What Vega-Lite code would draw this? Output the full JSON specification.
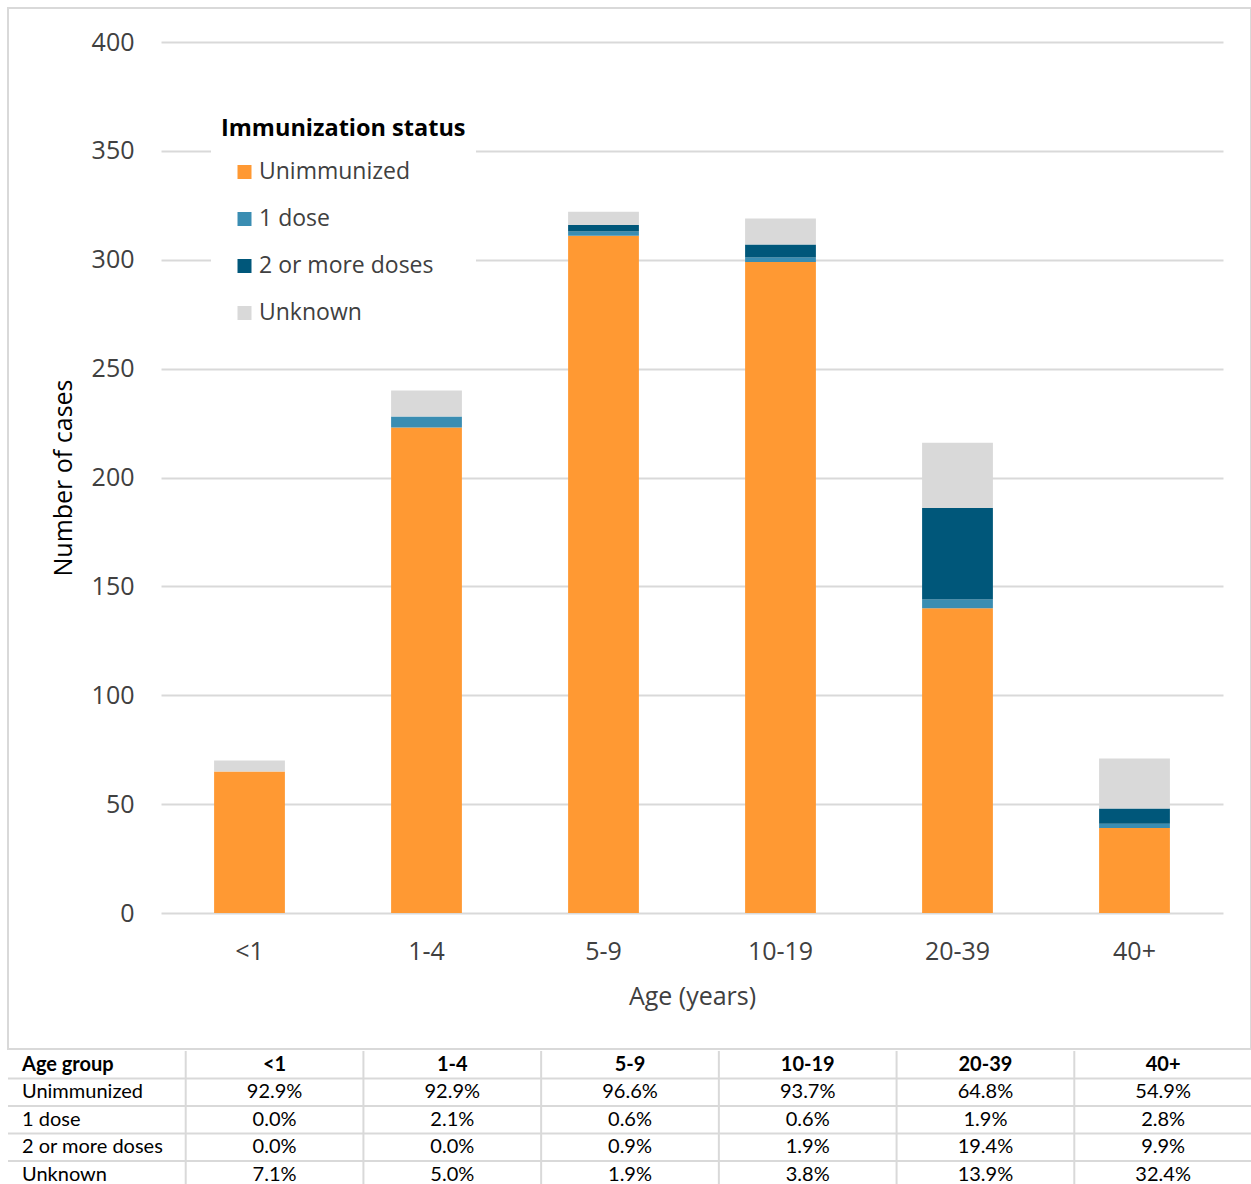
{
  "$schema": "https://vega.github.io/schema/vega-lite/v6.json",
  "padding": {"left": 7, "top": 7, "right": 0, "bottom": 0},
  "background": "white",
  "spacing": 0,
  "config": {
    "font": "Open Sans",
    "view": {"stroke": null}
  },
  "datasets": {
    "cases": [
      {"age": "<1", "status": "Unimmunized", "count": 65, "pct": 0.929},
      {"age": "<1", "status": "1 dose", "count": 0, "pct": 0.0},
      {"age": "<1", "status": "2 or more doses", "count": 0, "pct": 0.0},
      {"age": "<1", "status": "Unknown", "count": 5, "pct": 0.071},
      {"age": "1-4", "status": "Unimmunized", "count": 223, "pct": 0.929},
      {"age": "1-4", "status": "1 dose", "count": 5, "pct": 0.021},
      {"age": "1-4", "status": "2 or more doses", "count": 0, "pct": 0.0},
      {"age": "1-4", "status": "Unknown", "count": 12, "pct": 0.05},
      {"age": "5-9", "status": "Unimmunized", "count": 311, "pct": 0.966},
      {"age": "5-9", "status": "1 dose", "count": 2, "pct": 0.006},
      {"age": "5-9", "status": "2 or more doses", "count": 3, "pct": 0.009},
      {"age": "5-9", "status": "Unknown", "count": 6, "pct": 0.019},
      {"age": "10-19", "status": "Unimmunized", "count": 299, "pct": 0.937},
      {"age": "10-19", "status": "1 dose", "count": 2, "pct": 0.006},
      {"age": "10-19", "status": "2 or more doses", "count": 6, "pct": 0.019},
      {"age": "10-19", "status": "Unknown", "count": 12, "pct": 0.038},
      {"age": "20-39", "status": "Unimmunized", "count": 140, "pct": 0.648},
      {"age": "20-39", "status": "1 dose", "count": 4, "pct": 0.019},
      {"age": "20-39", "status": "2 or more doses", "count": 42, "pct": 0.194},
      {"age": "20-39", "status": "Unknown", "count": 30, "pct": 0.139},
      {"age": "40+", "status": "Unimmunized", "count": 39, "pct": 0.549},
      {"age": "40+", "status": "1 dose", "count": 2, "pct": 0.028},
      {"age": "40+", "status": "2 or more doses", "count": 7, "pct": 0.099},
      {"age": "40+", "status": "Unknown", "count": 23, "pct": 0.324}
    ]
  },
  "vconcat": [
    {
      "width": 1243,
      "height": 1041,
      "view": {"stroke": "#d9d9d9", "strokeWidth": 2},
      "data": {"name": "cases"},
      "transform": [
        {"calculate": "indexof(['Unimmunized','1 dose','2 or more doses','Unknown'], datum.status)", "as": "stackOrder"}
      ],
      "mark": {"type": "bar"},
      "encoding": {
        "x": {
          "field": "age",
          "type": "nominal",
          "sort": ["<1", "1-4", "5-9", "10-19", "20-39", "40+"],
          "scale": {"range": [153, 1215], "paddingInner": 0.6, "paddingOuter": 0.3},
          "axis": {
            "title": "Age (years)",
            "offset": -136,
            "domain": false,
            "ticks": false,
            "grid": false,
            "labelAngle": 0,
            "labelPadding": 26,
            "labelFontSize": 25,
            "labelColor": "#404040",
            "titleFontSize": 25,
            "titleFontWeight": "normal",
            "titleColor": "#404040",
            "titleY": 83,
            "titleBaseline": "middle"
          }
        },
        "y": {
          "field": "count",
          "type": "quantitative",
          "stack": "zero",
          "scale": {"domain": [0, 400], "range": [905, 34], "nice": false},
          "axis": {
            "title": "Number of cases",
            "values": [0, 50, 100, 150, 200, 250, 300, 350, 400],
            "offset": -153,
            "domain": false,
            "ticks": false,
            "grid": true,
            "gridColor": "#d9d9d9",
            "gridWidth": 2,
            "labelPadding": 27,
            "labelFontSize": 25,
            "labelColor": "#404040",
            "titleFontSize": 25,
            "titleFontWeight": "normal",
            "titleColor": "#000000",
            "titleX": -98,
            "titleBaseline": "middle"
          }
        },
        "color": {
          "field": "status",
          "type": "nominal",
          "scale": {
            "domain": ["Unimmunized", "1 dose", "2 or more doses", "Unknown"],
            "range": ["#FF9933", "#3A8DB2", "#00577A", "#D9D9D9"]
          },
          "legend": {
            "title": "Immunization status",
            "orient": "none",
            "legendX": 203,
            "legendY": 99,
            "padding": 10,
            "fillColor": "white",
            "titleFontSize": 23.5,
            "titleFontWeight": "bold",
            "titleColor": "#000000",
            "titlePadding": 20,
            "titleLimit": 500,
            "labelLimit": 500,
            "labelFontSize": 23,
            "labelColor": "#404040",
            "symbolType": "square",
            "symbolSize": 196,
            "symbolStrokeWidth": 0,
            "symbolOffset": 12,
            "labelOffset": 3,
            "rowPadding": 23
          }
        },
        "order": {"field": "stackOrder", "type": "quantitative"}
      }
    },
    {
      "width": 1244,
      "height": 137.5,
      "data": {"name": "cases"},
      "layer": [
        {
          "transform": [{"filter": "datum.status === 'Unimmunized'"}],
          "mark": {"type": "rule", "color": "#d9d9d9", "strokeWidth": 2},
          "encoding": {
            "x": {"field": "age", "type": "nominal", "bandPosition": 0}
          }
        },
        {
          "transform": [{"filter": "datum.age === '<1'"}],
          "mark": {"type": "rule", "color": "#d9d9d9", "strokeWidth": 2},
          "encoding": {
            "y": {"field": "status", "type": "nominal", "bandPosition": 0}
          }
        },
        {
          "transform": [{"filter": "datum.status === 'Unimmunized'"}],
          "mark": {"type": "text", "font": "Lato", "fontSize": 20, "fontWeight": "bold", "color": "#000000", "baseline": "middle"},
          "encoding": {
            "x": {"field": "age", "type": "nominal"},
            "y": {"datum": "Age group", "type": "nominal"},
            "text": {"field": "age", "type": "nominal"}
          }
        },
        {
          "transform": [{"filter": "datum.status === 'Unimmunized' && datum.age === '<1'"}],
          "mark": {"type": "text", "text": "Age group", "font": "Lato", "fontSize": 20, "fontWeight": "bold", "color": "#000000", "align": "left", "dx": 14, "baseline": "middle"},
          "encoding": {
            "x": {"datum": "Age group", "type": "nominal", "bandPosition": 0},
            "y": {"datum": "Age group", "type": "nominal"}
          }
        },
        {
          "transform": [{"filter": "datum.age === '<1'"}],
          "mark": {"type": "text", "font": "Lato", "fontSize": 20, "color": "#000000", "align": "left", "dx": 14, "baseline": "middle"},
          "encoding": {
            "x": {"datum": "Age group", "type": "nominal", "bandPosition": 0},
            "y": {"field": "status", "type": "nominal"},
            "text": {"field": "status", "type": "nominal"}
          }
        },
        {
          "mark": {"type": "text", "font": "Lato", "fontSize": 20, "color": "#000000", "baseline": "middle"},
          "encoding": {
            "x": {"field": "age", "type": "nominal"},
            "y": {"field": "status", "type": "nominal"},
            "text": {"field": "pct", "type": "quantitative", "format": ".1%"}
          }
        }
      ],
      "encoding": {
        "x": {
          "scale": {"type": "band", "domain": ["Age group", "<1", "1-4", "5-9", "10-19", "20-39", "40+"], "paddingInner": 0, "paddingOuter": 0},
          "axis": null
        },
        "y": {
          "scale": {"type": "band", "domain": ["Age group", "Unimmunized", "1 dose", "2 or more doses", "Unknown"], "paddingInner": 0, "paddingOuter": 0},
          "axis": null
        }
      }
    }
  ]
}
